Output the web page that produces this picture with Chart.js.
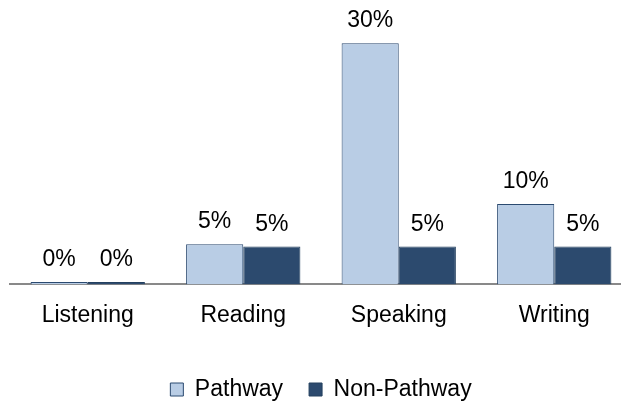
<!DOCTYPE html>
<html>
<head>
<meta charset="utf-8">
<script src="https://cdn.jsdelivr.net/npm/chart.js@4.4.1/dist/chart.umd.min.js"></script>
<style>
  html, body { margin: 0; padding: 0; background: #fff; overflow: hidden; }
  #wrap { position: relative; width: 632px; height: 411px; }
</style>
</head>
<body>
<div id="wrap"><canvas id="skillsChart"></canvas></div>
<script>
const skills = ["Listening", "Reading", "Speaking", "Writing"];
const pathway = [0.3, 5.0, 30.0, 10.0];
const nonPathway = [0.3, 4.7, 4.7, 4.7];

const FONT = "'Liberation Sans', Arial, sans-serif";

// percent labels above each bar
const barLabels = {
  id: "barLabels",
  afterDatasetsDraw(chart) {
    const ctx = chart.ctx;
    ctx.save();
    ctx.font = "23px " + FONT;
    ctx.fillStyle = "#000";
    ctx.textAlign = "center";
    ctx.textBaseline = "alphabetic";
    chart.data.datasets.forEach((ds, i) => {
      chart.getDatasetMeta(i).data.forEach((bar, j) => {
        ctx.fillText(Math.round(ds.data[j]) + "%", bar.x, bar.y - 16);
      });
    });
    ctx.restore();
  }
};

new Chart(document.getElementById("skillsChart"), {
  type: "bar",
  data: {
    labels: skills,
    datasets: [
      {
        label: "Pathway",
        data: pathway,
        backgroundColor: "#b9cde5",
        borderColor: "#2b4a70",
        borderWidth: 1
      },
      {
        label: "Non-Pathway",
        data: nonPathway,
        backgroundColor: "#2c4a6e",
        borderColor: "#24405f",
        borderWidth: 1
      }
    ]
  },
  options: {
    responsive: true,
    maintainAspectRatio: false,
    animation: false,
    datasets: {
      bar: { categoryPercentage: 0.735, barPercentage: 1.0 }
    },
    layout: { padding: { left: 10, right: 0, top: 3, bottom: 0 } },
    plugins: {
      legend: {
        position: "bottom",
        labels: {
          color: "#000",
          font: { family: FONT, size: 23 },
          boxWidth: 13,
          boxHeight: 13,
          padding: 26
        }
      },
      tooltip: { enabled: false }
    },
    scales: {
      x: {
        grid: { display: false },
        border: { display: true, color: "#898989", width: 2 },
        ticks: {
          color: "#000",
          font: { family: FONT, size: 23 },
          padding: 9
        },
        // leave room between the category names and the legend
        afterFit(scale) { scale.height += 14; }
      },
      y: {
        display: false,
        min: 0,
        max: 35
      }
    }
  },
  plugins: [barLabels]
});
</script>
</body>
</html>
